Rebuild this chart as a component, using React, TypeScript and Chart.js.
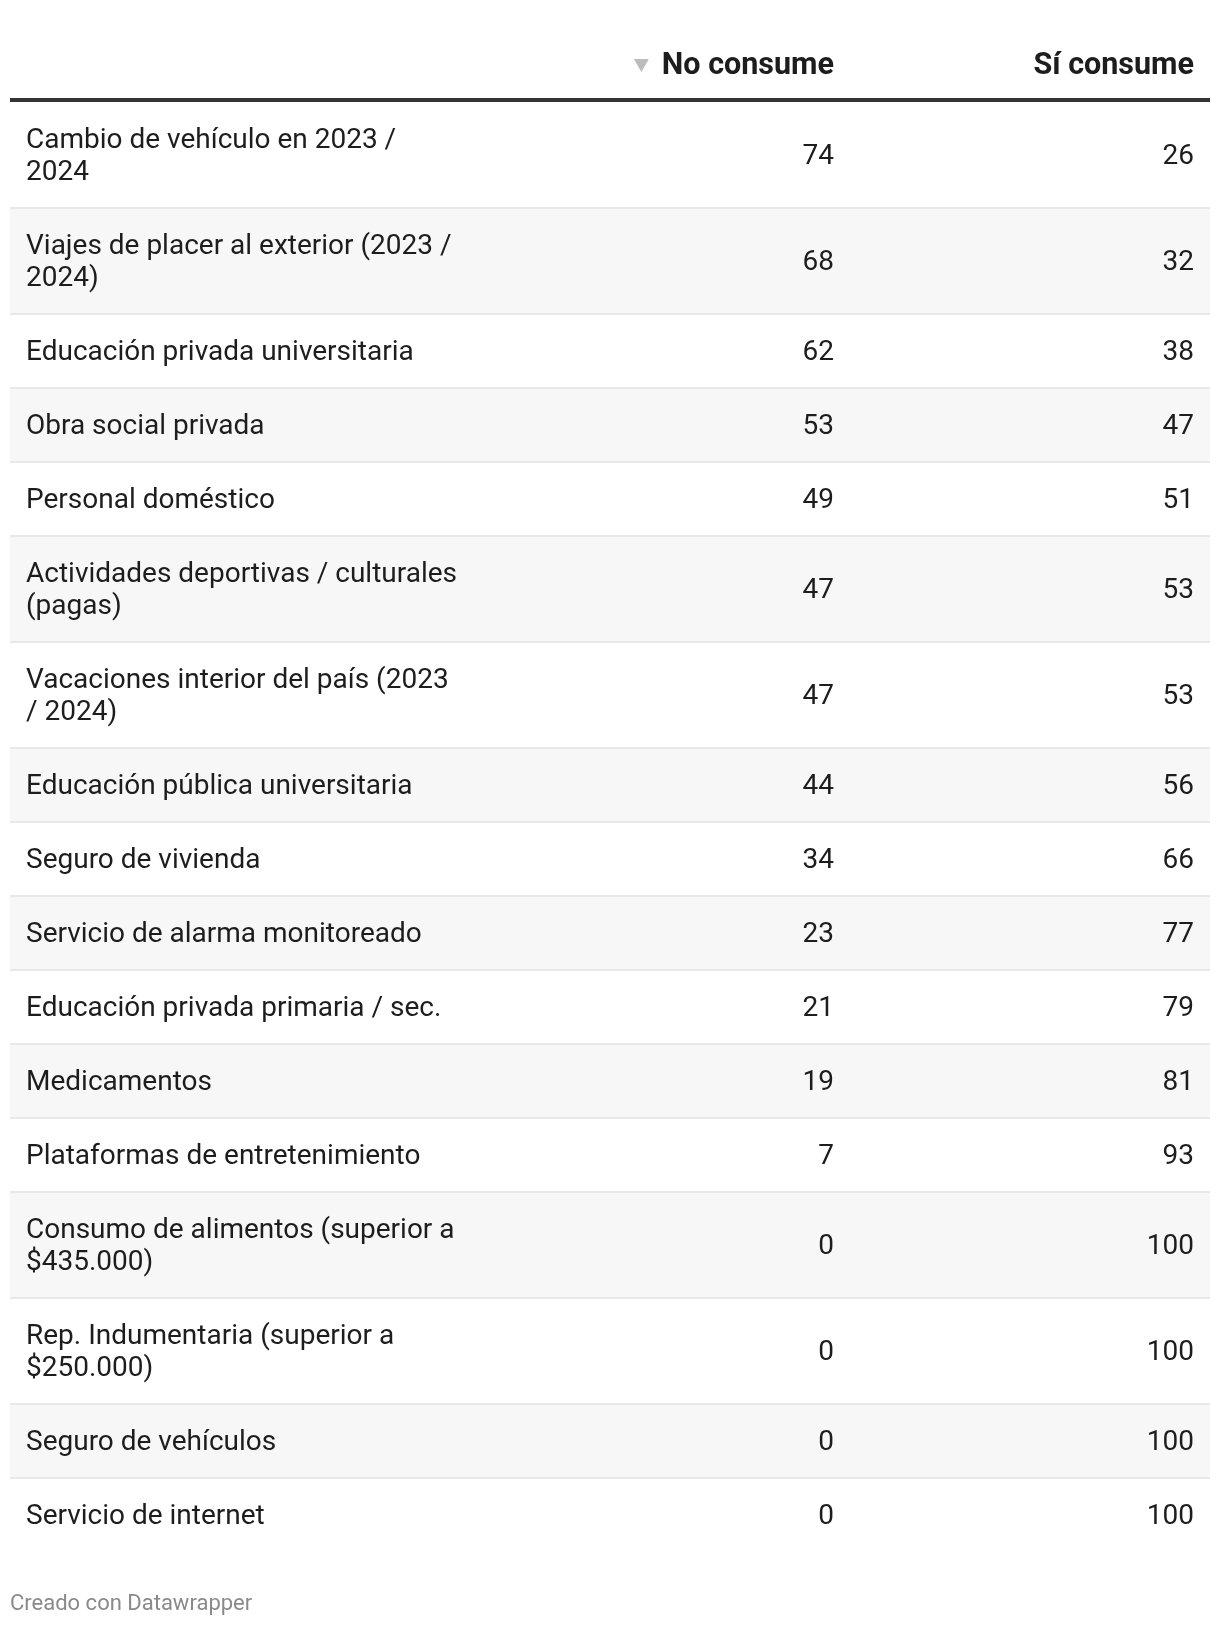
import React, { useEffect, useRef } from "react";
import { Chart, registerables } from "chart.js";

Chart.register(...registerables);

// ---- Data ----
const CATEGORIES: string[][] = [
  ["Cambio de vehículo en 2023 /", "2024"],
  ["Viajes de placer al exterior (2023 /", "2024)"],
  ["Educación privada universitaria"],
  ["Obra social privada"],
  ["Personal doméstico"],
  ["Actividades deportivas / culturales", "(pagas)"],
  ["Vacaciones interior del país (2023", "/ 2024)"],
  ["Educación pública universitaria"],
  ["Seguro de vivienda"],
  ["Servicio de alarma monitoreado"],
  ["Educación privada primaria / sec."],
  ["Medicamentos"],
  ["Plataformas de entretenimiento"],
  ["Consumo de alimentos (superior a", "$435.000)"],
  ["Rep. Indumentaria (superior a", "$250.000)"],
  ["Seguro de vehículos"],
  ["Servicio de internet"],
];
const NO_CONSUME = [74, 68, 62, 53, 49, 47, 47, 44, 34, 23, 21, 19, 7, 0, 0, 0, 0];
const SI_CONSUME = [26, 32, 38, 47, 51, 53, 53, 56, 66, 77, 79, 81, 93, 100, 100, 100, 100];
const COLUMN_HEADERS = ["", "No consume", "Sí consume"];
const SORTED_COLUMN = 1;
const FOOTER = "Creado con Datawrapper";

// ---- Style / layout constants ----
const W = 1220;
const H = 1626;
const FONT = "Roboto, 'Noto Sans', sans-serif";
const BODY_SIZE = 28;
const HEAD_SIZE = 30.5;
const LINE_PX = 32;
const ROW_PAD = 1.3125; // in line units (42px total vertical padding)
const COL_WEIGHTS = [4, 3, 3];
const CELL_PAD = 16;
const TEXT_DY = 2;
const TEXT = "#1d1d1d";

export default function App() {
  const ref = useRef<HTMLCanvasElement | null>(null);

  useEffect(() => {
    if (!ref.current) return;
    const starts: number[] = [];
    const spans: number[] = [];
    let acc = 0;
    CATEGORIES.forEach((lines) => {
      starts.push(acc);
      const s = lines.length + ROW_PAD;
      spans.push(s);
      acc += s;
    });
    const total = acc;
    const colEdges: number[] = [0];
    COL_WEIGHTS.forEach((w, i) => colEdges.push(colEdges[i] + w));
    const xMax = colEdges[colEdges.length - 1];
    const centers = starts.map((s, i) => s + spans[i] / 2);

    const tablePlugin = {
      id: "tablePlugin",
      beforeDatasetsDraw(chart: any) {
        const ctx = chart.ctx as CanvasRenderingContext2D;
        const xs = chart.scales.x;
        const ys = chart.scales.y;
        const left = xs.getPixelForValue(0);
        const right = xs.getPixelForValue(xMax);
        ctx.save();
        ctx.fillStyle = "#ffffff";
        ctx.fillRect(0, 0, chart.width, chart.height);
        CATEGORIES.forEach((_, i) => {
          const y0 = ys.getPixelForValue(starts[i]);
          const y1 = ys.getPixelForValue(starts[i] + spans[i]);
          if (i % 2 === 1) {
            ctx.fillStyle = "#f7f7f7";
            ctx.fillRect(left, y0, right - left, y1 - y0);
          }
          if (i > 0) {
            ctx.fillStyle = "#e8e8e8";
            ctx.fillRect(left, y0 - 1, right - left, 2);
          }
        });
        const top = ys.getPixelForValue(0);
        ctx.fillStyle = "#333333";
        ctx.fillRect(left, top - 4, right - left, 4);
        ctx.font = `bold ${HEAD_SIZE}px ${FONT}`;
        ctx.textBaseline = "middle";
        ctx.textAlign = "right";
        const hy = 66;
        COLUMN_HEADERS.forEach((h, c) => {
          if (!h) return;
          const xr = xs.getPixelForValue(colEdges[c + 1]) - CELL_PAD;
          ctx.fillStyle = TEXT;
          ctx.fillText(h, xr, hy);
          if (c === SORTED_COLUMN) {
            const tw = ctx.measureText(h).width;
            const tx = xr - tw - 13;
            ctx.fillStyle = "#bdbdbd";
            ctx.beginPath();
            ctx.moveTo(tx - 15, hy - 7);
            ctx.lineTo(tx, hy - 7);
            ctx.lineTo(tx - 7.5, hy + 6);
            ctx.closePath();
            ctx.fill();
          }
        });
        ctx.textAlign = "left";
        ctx.font = `22px ${FONT}`;
        ctx.fillStyle = "#8a8a8a";
        ctx.fillText(FOOTER, left, 1604);
        ctx.restore();
      },
      afterDatasetsDraw(chart: any) {
        const ctx = chart.ctx as CanvasRenderingContext2D;
        const xs = chart.scales.x;
        const ys = chart.scales.y;
        ctx.save();
        ctx.font = `${BODY_SIZE}px ${FONT}`;
        ctx.fillStyle = TEXT;
        ctx.textBaseline = "middle";
        ctx.textAlign = "left";
        const lx = xs.getPixelForValue(0) + CELL_PAD;
        CATEGORIES.forEach((lines, i) => {
          const cy = ys.getPixelForValue(centers[i]) + TEXT_DY;
          const n = lines.length;
          lines.forEach((ln, k) => {
            ctx.fillText(ln, lx, cy + (k - (n - 1) / 2) * LINE_PX);
          });
        });
        ctx.textAlign = "right";
        chart.data.datasets.forEach((ds: any, di: number) => {
          const meta = chart.getDatasetMeta(di);
          meta.data.forEach((el: any, i: number) => {
            ctx.fillText(String(ds.data[i].v), el.x - CELL_PAD, el.y + TEXT_DY);
          });
        });
        ctx.restore();
      },
    };

    const chart = new Chart(ref.current, {
      type: "scatter",
      data: {
        datasets: [
          {
            label: COLUMN_HEADERS[1],
            data: NO_CONSUME.map((v, i) => ({ x: colEdges[2], y: centers[i], v })) as any,
            pointRadius: 0,
            showLine: false,
          },
          {
            label: COLUMN_HEADERS[2],
            data: SI_CONSUME.map((v, i) => ({ x: colEdges[3], y: centers[i], v })) as any,
            pointRadius: 0,
            showLine: false,
          },
        ],
      },
      options: {
        animation: false,
        responsive: false,
        maintainAspectRatio: false,
        devicePixelRatio: 1,
        layout: { padding: { left: 10, right: 10, top: 102, bottom: H - 102 - total * LINE_PX } },
        scales: {
          x: { type: "linear", min: 0, max: xMax, display: false },
          y: { type: "linear", min: 0, max: total, reverse: true, display: false },
        },
        plugins: { legend: { display: false }, tooltip: { enabled: false }, title: { display: false } },
        events: [],
      },
      plugins: [tablePlugin],
    });
    return () => chart.destroy();
  }, []);

  return (
    <div style={{ position: "absolute", left: 0, top: 0, width: W, height: H, background: "#fff" }}>
      <canvas ref={ref} width={W} height={H} style={{ display: "block", width: W, height: H }} />
    </div>
  );
}
